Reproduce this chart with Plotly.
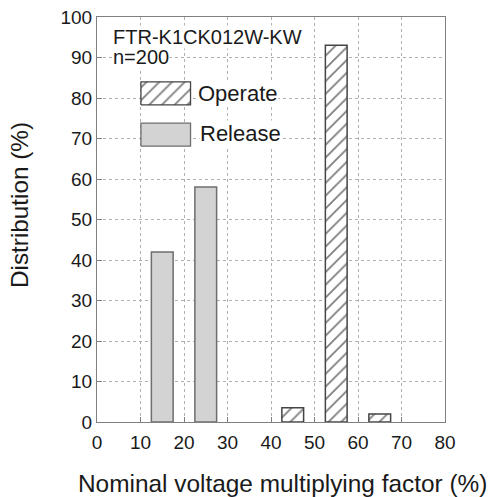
import plotly.graph_objects as go

# Data
release_x = [15, 25]
release_y = [42, 58]
operate_x = [45, 55, 65]
operate_y = [3.5, 93, 2]
x_ticks = [0, 10, 20, 30, 40, 50, 60, 70, 80]
y_ticks = [0, 10, 20, 30, 40, 50, 60, 70, 80, 90, 100]

FONT = "Liberation Sans, Arial, sans-serif"
TXT = "#1a1a1a"
HATCH = dict(shape="/", fgcolor="#000000", bgcolor="white", size=9, solidity=0.2)

fig = go.Figure()

fig.add_trace(go.Bar(
    x=release_x, y=release_y, width=5, name="Release",
    marker=dict(color="#d3d3d3", line=dict(color="#6e6e6e", width=1.5)),
    showlegend=False, hoverinfo="skip"))

fig.add_trace(go.Bar(
    x=operate_x, y=operate_y, width=5, name="Operate",
    marker=dict(color="white", line=dict(color="#444444", width=1.5), pattern=HATCH),
    showlegend=False, hoverinfo="skip"))

# Manual legend boxes
def box(x0, x1, y0, y1):
    return [x0, x1, x1, x0, x0], [y0, y0, y1, y1, y0]

bx, by = box(10.1, 21.5, 78.3, 84.0)
fig.add_trace(go.Scatter(
    x=bx, y=by, mode="lines", fill="toself",
    line=dict(color="#444444", width=1.3),
    fillcolor="white", fillpattern=HATCH,
    showlegend=False, hoverinfo="skip"))

bx, by = box(10.1, 21.5, 68.1, 73.8)
fig.add_trace(go.Scatter(
    x=bx, y=by, mode="lines", fill="toself",
    line=dict(color="#6e6e6e", width=1.3),
    fillcolor="#d3d3d3",
    showlegend=False, hoverinfo="skip"))

def px_ann(text, x, y, size, xanchor="left", yanchor="middle", angle=0, bg="white"):
    return dict(x=x, y=y, xref="paper", yref="paper", text=text, showarrow=False,
                xanchor=xanchor, yanchor=yanchor, textangle=angle,
                font=dict(size=size, color=TXT, family=FONT), bgcolor=bg, borderpad=0)

# pixel -> paper helpers (plot area: x 97..445, y 17..422)
def fx(p):
    return (p - 97) / (445 - 97)

def fy(p):
    return (422 - p) / (422 - 17)

ann = [
    px_ann("FTR-K1CK012W-KW", fx(112), fy(37), 20),
    px_ann("n=200", fx(112), fy(57), 20),
    px_ann("Operate", fx(197), fy(94), 22),
    px_ann("Release", fx(199), fy(133), 22),
    px_ann("Nominal voltage multiplying factor (%)", fx(282), fy(484), 24.4,
           xanchor="center", bg="rgba(0,0,0,0)"),
    px_ann("Distribution (%)", fx(19), fy(205), 24.3, xanchor="center", angle=-90,
           bg="rgba(0,0,0,0)"),
]

axis_common = dict(
    showline=True, linecolor="#808080", linewidth=1, mirror=True,
    ticks="inside", ticklen=5, tickcolor="#808080", tickwidth=1,
    showgrid=True, gridcolor="#b0b0b0", gridwidth=1, griddash="dot",
    zeroline=False, tickfont=dict(size=19, color=TXT, family=FONT),
)

fig.update_layout(
    width=489, height=497,
    margin=dict(l=97, r=44, t=17, b=75),
    paper_bgcolor="white", plot_bgcolor="white",
    barmode="overlay",
    font=dict(family=FONT, color=TXT),
    annotations=ann,
    xaxis=dict(range=[0, 80], tickvals=x_ticks, ticktext=[str(v) for v in x_ticks],
               automargin=False, ticklabelstandoff=3, **axis_common),
    yaxis=dict(range=[0, 100], tickvals=y_ticks, ticktext=[str(v) for v in y_ticks],
               automargin=False, **axis_common),
)

fig.write_html("out.html")
